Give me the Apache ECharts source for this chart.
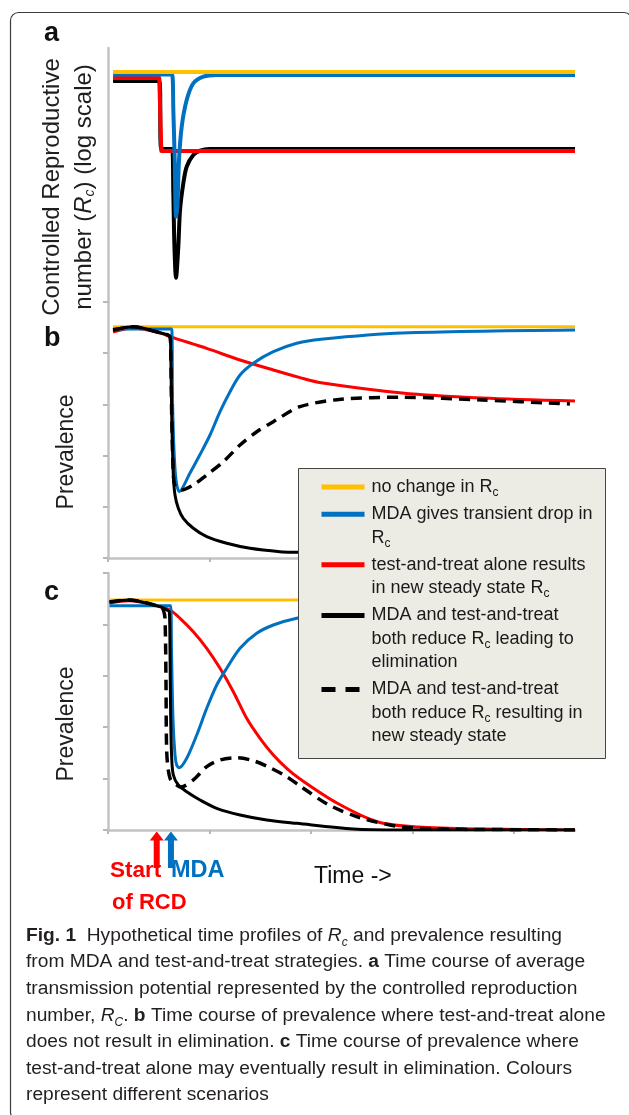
<!DOCTYPE html>
<html>
<head>
<meta charset="utf-8">
<title>Fig. 1</title>
<script src="https://cdn.jsdelivr.net/npm/echarts@6/dist/echarts.min.js"></script>
<style>
  html, body { margin: 0; padding: 0; background: #fff; }
  #main { width: 629px; height: 1115px; }
</style>
</head>
<body>
<div id="main"></div>
<script>
// scenario names, legend order
var scenarios = [
  'no change in Rc',
  'MDA gives transient drop in Rc',
  'test-and-treat alone results in new steady state Rc',
  'MDA and test-and-treat both reduce Rc leading to elimination',
  'MDA and test-and-treat both reduce Rc resulting in new steady state'
];
var timeTicks = [0, 20, 40, 60, 80];
var prevTicks = [0, 1, 2, 3, 4, 5];

// when the interventions start (time units)
var rcdStart = 9.6;
var mdaStart = 12.4;

// panel a: Rc on a log scale, [time, Rc]
var aNoChange = [[1, 1.507], [92, 1.507]];
var aMda = [[1, 1.465], [12.6, 1.465], [12.87, 0.963], [13.14, 0.534], [13.4, 0.273], [13.66, 0.308], [13.99, 0.534],
  [14.52, 0.791], [15.5, 1.083], [16.8, 1.319], [18.78, 1.426], [21.4, 1.455], [92, 1.455]];
var aTestTreat = [[1, 1.405], [10.1, 1.405], [10.5, 0.594], [92, 0.594]];
var aBoth = [[1, 1.355], [10.1, 1.355], [10.5, 0.608], [12.6, 0.608], [12.87, 0.361], [13.07, 0.2], [13.4, 0.133],
  [13.85, 0.192], [14.19, 0.296], [14.84, 0.406], [15.5, 0.493], [16.8, 0.566], [18.13, 0.596], [20, 0.608], [92, 0.608]];

// panel b: prevalence, test-and-treat alone does not eliminate
var bNoChange = [[1, 4.51], [92, 4.51]];
var bMda = [[1, 4.468], [12.55, 4.468], [12.71, 3.09], [13.0, 2.11], [13.4, 1.52], [14.05, 1.294], [16.16, 1.66],
  [18.13, 2.02], [20.1, 2.4], [22.07, 2.855], [24.04, 3.245], [26.01, 3.571], [28.63, 3.8], [32.57, 4.025],
  [37.18, 4.19], [41.97, 4.27], [57.93, 4.39], [92, 4.449]];
var bTestTreat = [[1, 4.41], [4.9, 4.49], [10.4, 4.39], [12.2, 4.32], [19.45, 4.09], [26.01, 3.863], [32.57, 3.668],
  [37.83, 3.52], [41.97, 3.42], [57.93, 3.22], [73.69, 3.122], [92, 3.063]];
var bBoth = [[1, 4.45], [4.9, 4.51], [10.4, 4.39], [12.2, 4.32], [12.35, 4.09], [12.55, 2.79], [12.87, 1.62],
  [13.2, 1.229], [13.85, 0.97], [14.84, 0.775], [16.81, 0.58], [19.45, 0.416], [23.39, 0.287], [27.98, 0.189],
  [33.89, 0.123], [37.18, 0.111], [50, 0.075], [70, 0.045], [92, 0.03]];
var bBothSteady = [[1, 4.45], [4.9, 4.51], [10.4, 4.39], [12.2, 4.32], [12.35, 4.09], [12.55, 2.79], [12.87, 1.62],
  [13.2, 1.4], [13.8, 1.35], [14.5, 1.327], [16.81, 1.424], [19.45, 1.62], [22.72, 1.879], [26.01, 2.205],
  [29.3, 2.464], [32.57, 2.659], [37.83, 2.952], [45.91, 3.097], [57.93, 3.136], [73.69, 3.083], [91, 3.005]];

// panel c: prevalence, test-and-treat alone may eliminate
var cNoChange = [[0.3, 4.475], [92, 4.475]];
var cMda = [[0.3, 4.364], [12.35, 4.364], [12.51, 3.5], [12.81, 2.14], [13.2, 1.46], [13.54, 1.26], [14.05, 1.212],
  [15.51, 1.395], [17.48, 1.848], [19.45, 2.368], [21.42, 2.821], [23.39, 3.146], [26.01, 3.535], [29.3, 3.827],
  [32.57, 3.988], [37.18, 4.119], [45, 4.25], [55, 4.32], [70, 4.35], [92, 4.36]];
var cTestTreat = [[0.3, 4.416], [4.1, 4.46], [10.4, 4.34], [12.22, 4.28], [14.19, 4.119], [16.81, 3.858],
  [19.45, 3.535], [22.07, 3.146], [24.69, 2.691], [27.32, 2.173], [29.95, 1.784], [32.57, 1.459], [35.21, 1.2],
  [37.83, 0.992], [45.1, 0.525], [53.2, 0.156], [61.08, 0.058], [73.69, 0.019], [92, 0]];
var cBoth = [[0.3, 4.436], [4.1, 4.475], [10.4, 4.34], [11.6, 4.28], [12.08, 4.247], [12.22, 3.469], [12.35, 2.173],
  [12.55, 1.395], [12.87, 1.07], [13.85, 0.875], [15.51, 0.745], [18.13, 0.584], [21.42, 0.422], [26.01, 0.292],
  [31.27, 0.195], [37.18, 0.13], [48.28, 0.02], [57.54, 0], [92, 0]];
var cBothSteady = [[0.3, 4.436], [4.1, 4.475], [10.4, 4.34], [10.9, 4.28], [11.23, 4.119], [11.43, 2.821],
  [11.57, 1.523], [12.22, 1.006], [13.54, 0.875], [14.38, 0.837], [16.81, 0.973], [19.45, 1.232], [22.07, 1.362],
  [25.36, 1.407], [28.63, 1.348], [31.9, 1.212], [35.21, 1.037], [37.83, 0.856], [43.55, 0.486], [49.85, 0.233],
  [57.93, 0.058], [65.81, 0.019], [73.69, 0.01], [92, 0]];

var FONT = '"Liberation Sans", Arial, Helvetica, sans-serif';
var YELLOW = '#ffc000', BLUE = '#0070c0', RED = '#ff0000', BLACK = '#000000';
var AXIS = '#c3c3c3';

function line(name, data, idx, color, width, dash, smooth) {
  return {
    name: name, type: 'line', xAxisIndex: idx, yAxisIndex: idx,
    data: data, symbol: 'none', showSymbol: false,
    smooth: smooth,
    silent: true, animation: false,
    emphasis: { disabled: true },
    itemStyle: { color: color },
    lineStyle: { color: color, width: width, type: dash || 'solid', join: 'round' },
    z: 2
  };
}

// legend text: blank lines keep the icon on the first line of each entry
var legendText = {};
legendText[scenarios[0]] = 'no change in R{sub|c}';
legendText[scenarios[1]] = '\n\nMDA gives transient drop in\nR{sub|c}\n';
legendText[scenarios[2]] = '\ntest-and-treat alone results\nin new steady state R{sub|c}';
legendText[scenarios[3]] = '\n\nMDA and test-and-treat\nboth reduce R{sub|c} leading to\nelimination';
legendText[scenarios[4]] = '\n\nMDA and test-and-treat\nboth reduce R{sub|c} resulting in\nnew steady state';

var LH = 23.4;
var GAP = 3.8;

function xAx(i) {
  return {
    type: 'value', gridIndex: i, min: 0, max: 92, interval: 20,
    axisLine: { show: i > 0, onZero: false, lineStyle: { color: AXIS, width: 2.5 } },
    axisTick: { show: i > 0, length: 4, customValues: timeTicks, lineStyle: { color: '#b8b8b8', width: 2 } },
    axisLabel: { show: false },
    splitLine: { show: false }
  };
}

function prevAxis(i, pad) {
  return {
    type: 'value', gridIndex: i, min: 0, max: 5, interval: 1,
    axisLine: { show: true, onZero: false, lineStyle: { color: AXIS, width: 2.5 } },
    axisTick: { show: true, length: 5, customValues: prevTicks, lineStyle: { color: '#b8b8b8', width: 2 } },
    axisLabel: { show: false },
    splitLine: { show: false },
    name: 'Prevalence', nameLocation: 'middle', nameRotate: 90, nameGap: 28,
    nameTextStyle: { fontFamily: FONT, fontSize: 23, lineHeight: 26, color: '#1e1e1e', padding: [0, pad, 0, 0] }
  };
}

var option = {
  animation: false,
  textStyle: { fontFamily: FONT },
  color: [YELLOW, BLUE, RED, BLACK, BLACK],
  grid: [
    { left: 108, right: 54, top: 48, height: 254, outerBoundsMode: 'none' },
    { left: 108, right: 54, top: 301.75, height: 256.25, outerBoundsMode: 'none' },
    { left: 108, right: 54, top: 573, height: 257, outerBoundsMode: 'none' }
  ],
  xAxis: [xAx(0), xAx(1), xAx(2)],
  yAxis: [
    {
      type: 'log', logBase: 10, gridIndex: 0, min: 0.1, max: 2,
      axisLine: { show: true, onZero: false, lineStyle: { color: AXIS, width: 2.5 } },
      axisTick: { show: false }, axisLabel: { show: false }, splitLine: { show: false },
      name: 'Controlled Reproductive\nnumber ({i|R}{isub|c}) (log scale)',
      nameLocation: 'middle', nameRotate: 90, nameGap: 8,
      nameTextStyle: {
        fontFamily: FONT, fontSize: 24, lineHeight: 32, color: '#1e1e1e', padding: [0, 24, 0, 0],
        rich: {
          i: { fontFamily: FONT, fontSize: 24, fontStyle: 'italic', color: '#1e1e1e' },
          isub: { fontFamily: FONT, fontSize: 14, fontStyle: 'italic', color: '#1e1e1e', verticalAlign: 'bottom', padding: [0, 0, 3, 0] }
        }
      }
    },
    prevAxis(1, 44),
    prevAxis(2, 45)
  ],
  legend: {
    data: scenarios.map(function (n, i) {
      return i === 4 ? { name: n, lineStyle: { type: [14, 10] } } : { name: n };
    }),
    orient: 'vertical',
    // first entry's line sits at y = 475.3; the blank-line trick reaches one line above it
    left: 319, top: 475.3 - (LH - GAP),
    padding: 0,
    z: 6,
    itemWidth: 43, itemHeight: LH, itemGap: GAP - 2 * LH,
    selectedMode: false,
    itemStyle: { opacity: 0, borderWidth: 0 },
    lineStyle: { width: 5, opacity: 1 },
    formatter: function (name) { return legendText[name]; },
    textStyle: {
      fontFamily: FONT, fontSize: 18, color: '#1a1a1a', lineHeight: LH, padding: [0, 0, 0, 2],
      rich: { sub: { fontFamily: FONT, fontSize: 12, color: '#1a1a1a', verticalAlign: 'bottom' } }
    }
  },
  series: [
    line(scenarios[3], aBoth, 0, BLACK, 4, null, 0.3),
    line(scenarios[2], aTestTreat, 0, RED, 4, null, false),
    line(scenarios[1], aMda, 0, BLUE, 4, null, 0.3),
    line(scenarios[0], aNoChange, 0, YELLOW, 4, null, false),

    line(scenarios[0], bNoChange, 1, YELLOW, 3, null, false),
    line(scenarios[2], bTestTreat, 1, RED, 3, null, 0.3),
    line(scenarios[1], bMda, 1, BLUE, 3, null, 0.3),
    line(scenarios[3], bBoth, 1, BLACK, 3, null, 0.3),
    line(scenarios[4], bBothSteady, 1, BLACK, 3.5, [11, 7], 0.3),

    line(scenarios[0], cNoChange, 2, YELLOW, 3, null, false),
    line(scenarios[2], cTestTreat, 2, RED, 3, null, 0.3),
    line(scenarios[1], cMda, 2, BLUE, 3, null, 0.3),
    line(scenarios[3], cBoth, 2, BLACK, 3, null, 0.3),
    line(scenarios[4], cBothSteady, 2, BLACK, 3.5, [11, 7], 0.3)
  ]
};

var chart = echarts.init(document.getElementById('main'));
chart.setOption(option);

// annotations placed from the time axis of panel c
var xRcd = chart.convertToPixel({ xAxisIndex: 2 }, rcdStart);
var xMda = chart.convertToPixel({ xAxisIndex: 2 }, mdaStart);
var yBase = chart.convertToPixel({ yAxisIndex: 2 }, 0);

function arrow(cx, tipY, baseY, color) {
  return {
    type: 'polygon', silent: true,
    shape: { points: [[cx, tipY], [cx + 7, tipY + 9], [cx + 3, tipY + 9], [cx + 3, baseY], [cx - 3, baseY], [cx - 3, tipY + 9], [cx - 7, tipY + 9]] },
    style: { fill: color }
  };
}

function txt(x, y, text, size, weight, color) {
  return {
    type: 'text', x: x, y: y, silent: true,
    style: { text: text, fontFamily: FONT, fontSize: size, fontWeight: weight, fill: color, align: 'left', verticalAlign: 'middle' }
  };
}

var captionLines = [
  '{b|Fig. 1}  Hypothetical time profiles of {i|R}{isub|c} and prevalence resulting',
  'from MDA and test-and-treat strategies. {b|a} Time course of average',
  'transmission potential represented by the controlled reproduction',
  'number, {i|R}{isub|C}. {b|b} Time course of prevalence where test-and-treat alone',
  'does not result in elimination. {b|c} Time course of prevalence where',
  'test-and-treat alone may eventually result in elimination. Colours',
  'represent different scenarios'
];
var CAP = '#231f20';
var CAPSIZE = 19.2;

chart.setOption({
  graphic: [
    {
      type: 'rect', silent: true, z: -1,
      shape: { x: 10.5, y: 12.5, width: 621.5, height: 1107.5, r: 8 },
      style: { fill: 'none', stroke: '#3c3c3c', lineWidth: 1.2 }
    },
    {
      // legend box, above the lines and below the legend entries
      type: 'rect', silent: true, z: 5,
      shape: { x: 298.5, y: 468.5, width: 307, height: 290 },
      style: { fill: '#ecebe4', stroke: '#454545', lineWidth: 1 }
    },
    txt(44, 33.6, 'a', 27, 'bold', '#111'),
    txt(44, 338.6, 'b', 27, 'bold', '#111'),
    txt(44, 592.6, 'c', 27, 'bold', '#111'),
    arrow(xRcd, yBase + 1.5, 868, RED),
    arrow(xMda, yBase + 1.5, 868, BLUE),
    txt(110, 871, 'Start', 22.5, 'bold', RED),
    txt(171, 871, 'MDA', 23.5, 'bold', BLUE),
    txt(112, 902.5, 'of RCD', 22, 'bold', RED),
    txt(314, 876.5, 'Time ->', 23, 'normal', '#111'),
    {
      type: 'text', x: 26, y: 922.2, silent: true,
      style: {
        text: captionLines.join('\n'),
        fontFamily: FONT, fontSize: CAPSIZE, lineHeight: 26.6, fill: CAP,
        align: 'left', verticalAlign: 'top',
        rich: {
          b: { fontFamily: FONT, fontSize: CAPSIZE, fontWeight: 'bold', fill: CAP },
          i: { fontFamily: FONT, fontSize: CAPSIZE, fontStyle: 'italic', fill: CAP },
          isub: { fontFamily: FONT, fontSize: 12, fontStyle: 'italic', fill: CAP, verticalAlign: 'bottom' }
        }
      }
    }
  ]
});
</script>
</body>
</html>
